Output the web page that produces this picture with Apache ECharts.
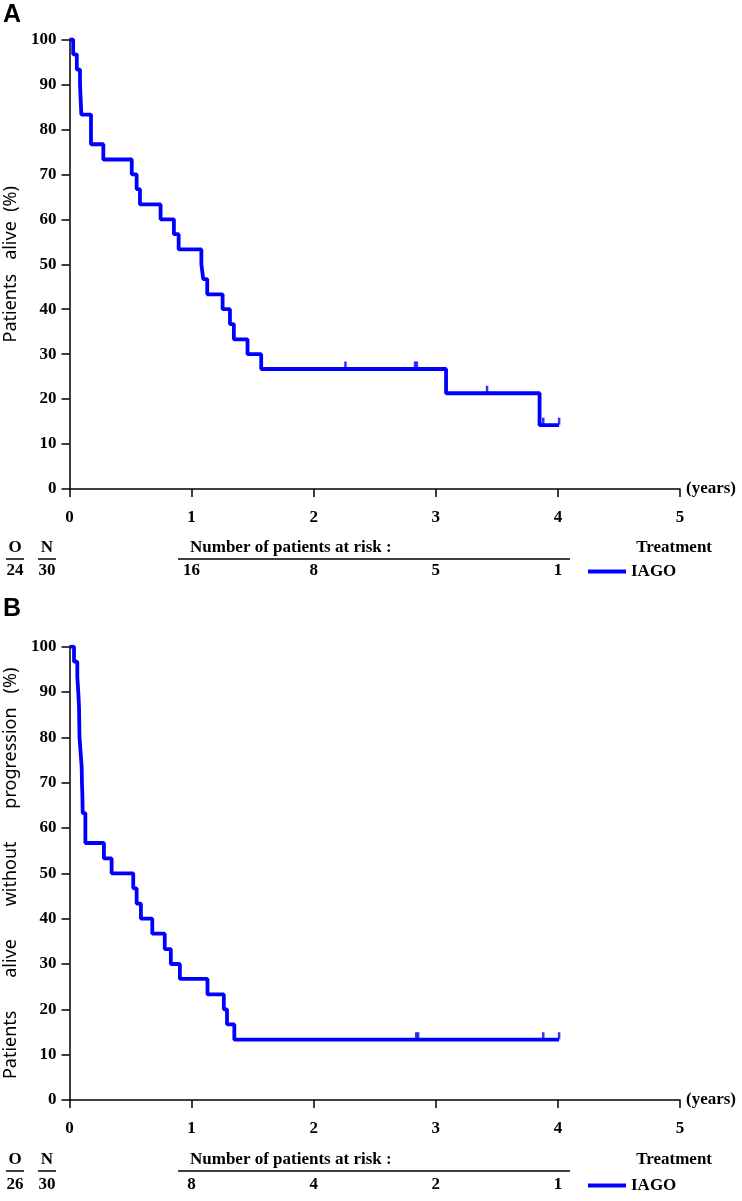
<!DOCTYPE html>
<html>
<head>
<meta charset="utf-8">
<script src="https://cdn.jsdelivr.net/npm/echarts@6/dist/echarts.min.js"></script>
<style>
html,body{margin:0;padding:0;background:#fff;}
#main{width:742px;height:1201px;}
</style>
</head>
<body>
<div id="main"></div>
<script>
// ---------- DATA ----------
// Panel A: overall survival (time in years, survival %)
const timesA = [0, 0.03, 0.06, 0.086, 0.097, 0.176, 0.277, 0.51, 0.55, 0.577, 0.746, 0.855, 0.894, 1.08, 1.095, 1.128, 1.254, 1.314, 1.346, 1.458, 1.57, 3.084, 3.85, 4.01];
const survA  = [100, 96.7, 93.3, 90, 83.3, 76.7, 73.3, 70, 66.7, 63.3, 60, 56.7, 53.3, 50, 46.7, 43.3, 40, 36.7, 33.3, 30, 26.7, 21.3, 14.2, 14.2];
const censorTimesA = [2.26, 2.83, 2.845, 3.42, 3.88, 4.01];
const censorSurvA  = [26.7, 26.7, 26.7, 21.3, 14.2, 14.2];

// Panel B: progression-free survival
const timesB = [0, 0.037, 0.064, 0.072, 0.078, 0.08, 0.082, 0.091, 0.1, 0.102, 0.106, 0.108, 0.13, 0.282, 0.345, 0.522, 0.55, 0.585, 0.678, 0.78, 0.83, 0.904, 1.13, 1.264, 1.29, 1.35, 4.01];
const survB  = [100, 96.7, 93.3, 90, 86.7, 83.3, 80, 76.7, 73.3, 70, 66.7, 63.3, 56.7, 53.3, 50, 46.7, 43.3, 40, 36.7, 33.3, 30, 26.7, 23.3, 20, 16.7, 13.3, 13.3];
const censorTimesB = [2.84, 2.855, 3.88, 4.01];
const censorSurvB  = [13.3, 13.3, 13.3, 13.3];

// Risk table
const riskTimes = [1, 2, 3, 4];
const riskA = [16, 8, 5, 1];
const riskB = [8, 4, 2, 1];
const eventsA = 24, totalA = 30;
const eventsB = 26, totalB = 30;

const xTicks = [0, 1, 2, 3, 4, 5];
const yTicks = [0, 10, 20, 30, 40, 50, 60, 70, 80, 90, 100];
const treatmentName = 'IAGO';

// ---------- STYLE ----------
const SERIF = '"Liberation Serif", "Times New Roman", serif';
const SANS = '"Noto Sans", "Open Sans", sans-serif';
const BLUE = '#0000ff';
const BOLD_FONT = 'bold 17px ' + SERIF;
const axisLineStyle = { color: '#000', width: 1.5 };
const tickFont = { fontFamily: SERIF, fontWeight: 'bold', fontSize: 17, color: '#000' };

const zip = (a, b) => a.map((v, i) => [v, b[i]]);

function xAxisFor(gi) {
  return {
    gridIndex: gi, type: 'value', min: xTicks[0], max: xTicks[xTicks.length - 1], interval: 1,
    axisLine: { show: true, onZero: false, lineStyle: axisLineStyle },
    axisTick: { show: true, length: 8, lineStyle: axisLineStyle },
    axisLabel: Object.assign({ margin: 20 }, tickFont),
    splitLine: { show: false },
    name: '(years)', nameLocation: 'end', nameGap: 6,
    nameTextStyle: Object.assign({}, tickFont)
  };
}
function yAxisFor(gi, name) {
  return {
    gridIndex: gi, type: 'value', min: yTicks[0], max: yTicks[yTicks.length - 1], interval: 10,
    axisLine: { show: true, lineStyle: axisLineStyle },
    axisTick: { show: true, length: 8, lineStyle: axisLineStyle },
    axisLabel: Object.assign({ margin: 13 }, tickFont),
    splitLine: { show: false },
    name: name, nameLocation: 'middle', nameGap: 49, nameRotate: 90,
    nameTextStyle: { fontFamily: SANS, fontSize: 18, color: '#000' }
  };
}
function hiddenX(gi) { return { gridIndex: gi, type: 'value', min: 0, max: 5, show: false }; }
function hiddenY(gi) { return { gridIndex: gi, type: 'value', min: -1, max: 1, show: false }; }

function kmSeries(xi, times, surv) {
  return {
    name: treatmentName, type: 'line', xAxisIndex: xi, yAxisIndex: xi,
    data: zip(times, surv), step: 'end', showSymbol: false, symbol: 'none',
    lineStyle: { color: BLUE, width: 3.8 }, itemStyle: { color: BLUE }, z: 3
  };
}
function censorSeries(xi, times, surv) {
  return {
    name: 'censored', type: 'scatter', xAxisIndex: xi, yAxisIndex: xi,
    data: zip(times, surv), symbol: 'rect', symbolSize: [2.5, 7], symbolOffset: [0, -4],
    itemStyle: { color: BLUE }, z: 4
  };
}
function riskSeries(xi, values) {
  return {
    name: 'risk', type: 'custom', xAxisIndex: xi, yAxisIndex: xi,
    data: riskTimes.map((t, i) => [t, 0, values[i]]),
    renderItem: function (params, api) {
      const p = api.coord([api.value(0), api.value(1)]);
      return {
        type: 'text', x: p[0], y: p[1],
        style: { text: String(api.value(2)), font: BOLD_FONT, fill: '#000', align: 'center', verticalAlign: 'middle' }
      };
    }
  };
}

function tableGraphics(yHead, yLine, yVal, events, total) {
  const t = (text, x, y, align) => ({ type: 'text', style: { text, x, y, font: BOLD_FONT, fill: '#000', align: align || 'center', verticalAlign: 'middle' } });
  const l = (x1, x2, y) => ({ type: 'line', shape: { x1, y1: y, x2, y2: y }, style: { stroke: '#000', lineWidth: 1.5 } });
  return [
    t('O', 15, yHead), t('N', 47, yHead),
    l(6, 24, yLine), l(38, 56, yLine),
    t(String(events), 15, yVal), t(String(total), 47, yVal),
    t('Number of patients at risk :', 190, yHead, 'left'),
    l(178, 570, yLine),
    t('Treatment', 712, yHead, 'right')
  ];
}

const option = {
  animation: false,
  backgroundColor: '#fff',
  grid: [
    { left: 69.5, top: 39.5, width: 610.5, height: 449.5, outerBoundsMode: 'none' },
    { left: 69.5, top: 646.7, width: 610.5, height: 453.3, outerBoundsMode: 'none' },
    { left: 69.5, top: 561, width: 610.5, height: 20, outerBoundsMode: 'none' },
    { left: 69.5, top: 1175, width: 610.5, height: 20, outerBoundsMode: 'none' }
  ],
  xAxis: [xAxisFor(0), xAxisFor(1), hiddenX(2), hiddenX(3)],
  yAxis: [
    yAxisFor(0, 'Patients   alive  (%)'),
    yAxisFor(1, 'Patients       alive       without       progression   (%)'),
    hiddenY(2), hiddenY(3)
  ],
  legend: [
    { data: [{ name: treatmentName, icon: 'rect' }], left: 583, top: 558, itemWidth: 38, itemHeight: 4, itemGap: 5, selectedMode: false,
      textStyle: { fontFamily: SERIF, fontWeight: 'bold', fontSize: 17, color: '#000' } },
    { data: [{ name: treatmentName, icon: 'rect' }], left: 583, top: 1172, itemWidth: 38, itemHeight: 4, itemGap: 5, selectedMode: false,
      textStyle: { fontFamily: SERIF, fontWeight: 'bold', fontSize: 17, color: '#000' } }
  ],
  series: [
    kmSeries(0, timesA, survA), censorSeries(0, censorTimesA, censorSurvA),
    kmSeries(1, timesB, survB), censorSeries(1, censorTimesB, censorSurvB),
    riskSeries(2, riskA), riskSeries(3, riskB)
  ],
  graphic: [
    { type: 'text', style: { text: 'A', x: 3, y: 3, font: 'bold 25px "Liberation Sans", Arial, sans-serif', fill: '#000' } },
    { type: 'text', style: { text: 'B', x: 3, y: 597, font: 'bold 25px "Liberation Sans", Arial, sans-serif', fill: '#000' } }
  ].concat(tableGraphics(548, 559, 571, eventsA, totalA), tableGraphics(1160, 1171, 1185, eventsB, totalB))
};

const chart = echarts.init(document.getElementById('main'), null, { renderer: 'canvas' });
chart.setOption(option);
</script>
</body>
</html>
